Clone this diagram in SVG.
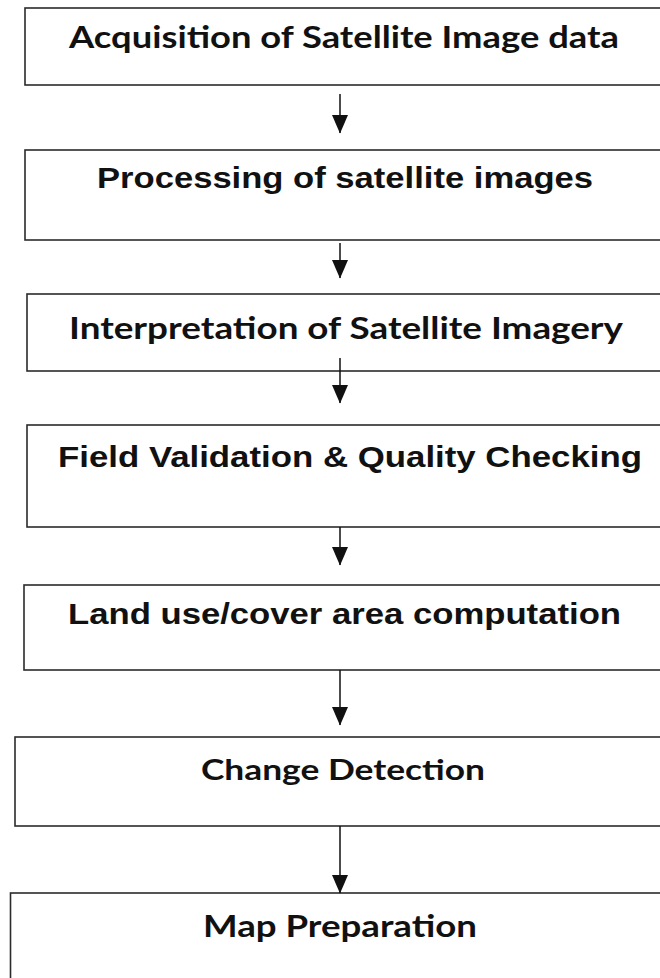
<svg xmlns="http://www.w3.org/2000/svg" width="660" height="978" viewBox="0 0 660 978">
<style>
.box{fill:#fff;stroke:#2b2b2b;stroke-width:1.6}
.cal{font-family:Lato,"Open Sans",sans-serif;font-weight:bold;fill:#111}
.ari{font-family:"Liberation Sans",Arial,sans-serif;font-weight:bold;fill:#111}
.edge{stroke:#111;stroke-width:1.5;fill:none;marker-end:url(#ah)}
</style>
<defs>
<marker id="ah" markerUnits="userSpaceOnUse" markerWidth="19" markerHeight="17" refX="18" refY="8" orient="auto" viewBox="0 0 19 16">
<path d="M0,0 L18.5,8 L0,16 Z" fill="#111"/>
</marker>
</defs>
<rect width="660" height="978" fill="#fff"/>
<g id="n1"><rect class="box" x="25" y="8" width="650" height="77"/><text class="cal" x="69" y="48" font-size="29.5" textLength="550" lengthAdjust="spacingAndGlyphs">Acquisition of Satellite Image data</text></g>
<g id="n2"><rect class="box" x="25" y="150" width="650" height="90"/><text class="ari" x="97" y="188" font-size="30" textLength="496" lengthAdjust="spacingAndGlyphs">Processing of satellite images</text></g>
<g id="n3"><rect class="box" x="27" y="294" width="650" height="77"/><text class="cal" x="69" y="339" font-size="29.5" textLength="554" lengthAdjust="spacingAndGlyphs">Interpretation of Satellite Imagery</text></g>
<g id="n4"><rect class="box" x="27" y="425" width="650" height="102"/><text class="ari" x="58" y="467" font-size="30" textLength="584" lengthAdjust="spacingAndGlyphs">Field Validation &amp; Quality Checking</text></g>
<g id="n5"><rect class="box" x="24" y="585" width="650" height="85"/><text class="ari" x="68" y="624" font-size="30" textLength="553" lengthAdjust="spacingAndGlyphs">Land use/cover area computation</text></g>
<g id="n6"><rect class="box" x="15" y="737" width="660" height="89"/><text class="cal" x="201" y="780" font-size="28.5" textLength="284" lengthAdjust="spacingAndGlyphs">Change Detection</text></g>
<g id="n7"><rect class="box" x="10.5" y="893" width="665" height="100"/><text class="cal" x="203" y="937" font-size="29.5" textLength="274" lengthAdjust="spacingAndGlyphs">Map Preparation</text></g>
<g id="connectors">
<line class="edge" x1="340" y1="94" x2="340" y2="133"/>
<line class="edge" x1="340" y1="243" x2="340" y2="278"/>
<line class="edge" x1="340" y1="358" x2="340" y2="403"/>
<line class="edge" x1="340" y1="527" x2="340" y2="565"/>
<line class="edge" x1="340" y1="670" x2="340" y2="725"/>
<line class="edge" x1="340" y1="826" x2="340" y2="893"/>
</g>
</svg>
